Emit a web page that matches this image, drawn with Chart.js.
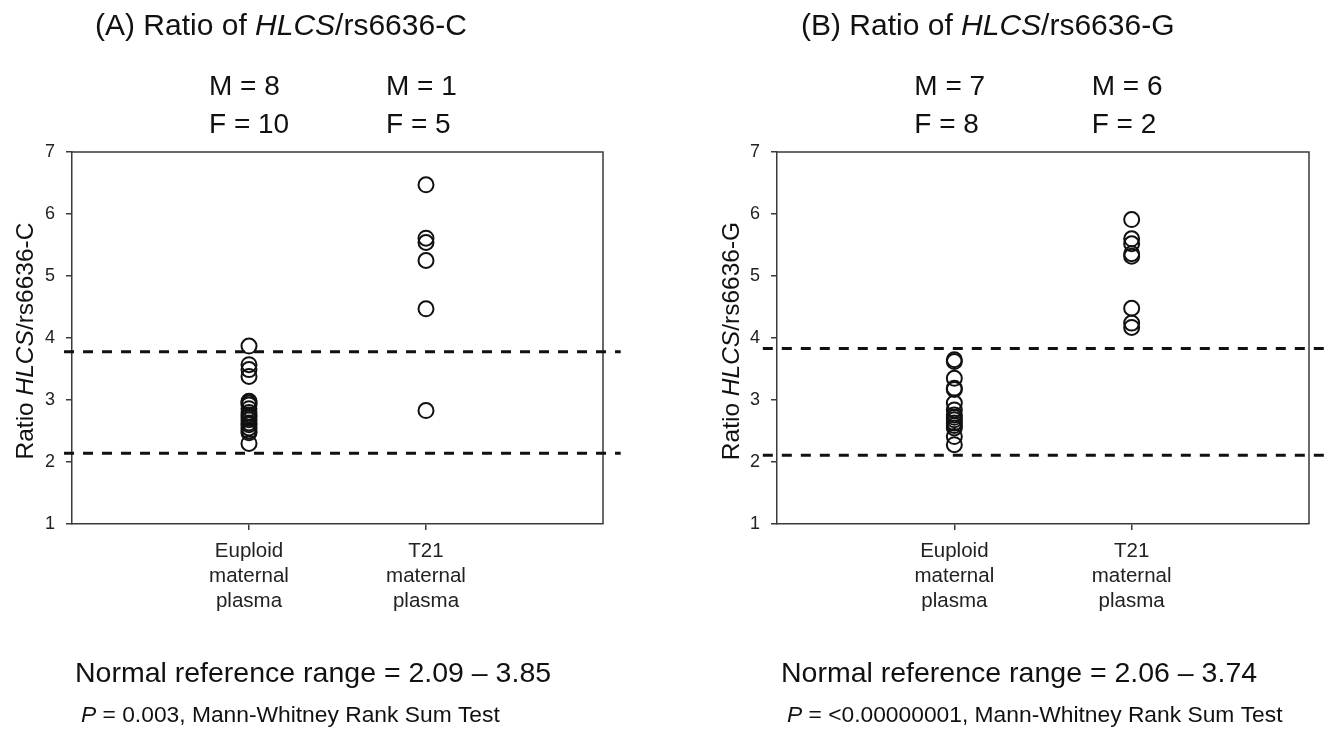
<!DOCTYPE html>
<html>
<head>
<meta charset="utf-8">
<script src="https://cdn.jsdelivr.net/npm/chart.js@4.4.1/dist/chart.umd.min.js"></script>
<style>
  html, body { margin: 0; padding: 0; background: #fff; }
  body { width: 1326px; height: 735px; position: relative; overflow: hidden; }
  canvas { position: absolute; top: 0; }
</style>
</head>
<body>
<canvas id="cA" width="663" height="735" style="left:0px"></canvas>
<canvas id="cB" width="663" height="735" style="left:663px"></canvas>
<script>
// ---------- data ----------
const categories = [['Euploid', 'maternal', 'plasma'], ['T21', 'maternal', 'plasma']];
const yTicks = [1, 2, 3, 4, 5, 6, 7];

const euploidA = [3.87, 3.57, 3.49, 3.38, 2.98, 2.95, 2.92, 2.86, 2.80, 2.76, 2.72, 2.68, 2.63, 2.60, 2.55, 2.50, 2.47, 2.30];
const t21A = [6.47, 5.61, 5.54, 5.25, 4.47, 2.83];
const refLinesA = [3.78, 2.14];
const maleA = [8, 1];
const femaleA = [10, 5];

const euploidB = [3.65, 3.62, 3.35, 3.19, 3.17, 2.95, 2.84, 2.76, 2.72, 2.68, 2.63, 2.59, 2.55, 2.41, 2.28];
const t21B = [5.91, 5.60, 5.52, 5.36, 5.32, 4.48, 4.24, 4.17];
const refLinesB = [3.83, 2.11];
const maleB = [7, 6];
const femaleB = [8, 2];

const titleA = [['(A) Ratio of ', false], ['HLCS', true], ['/rs6636-C', false]];
const titleB = [['(B) Ratio of ', false], ['HLCS', true], ['/rs6636-G', false]];
const yTitleA = [['Ratio ', false], ['HLCS', true], ['/rs6636-C', false]];
const yTitleB = [['Ratio ', false], ['HLCS', true], ['/rs6636-G', false]];
const rangeA = 'Normal reference range = 2.09 \u2013 3.85';
const rangeB = 'Normal reference range = 2.06 \u2013 3.74';
const pTextA = [['P', true], [' = 0.003, Mann-Whitney Rank Sum Test', false]];
const pTextB = [['P', true], [' = <0.00000001, Mann-Whitney Rank Sum Test', false]];

// ---------- drawing ----------
const FAM = '"Liberation Sans", Arial, Helvetica, sans-serif';
const W = 663, H = 735;
const TEXT = '#111';
const AXIS = '#3a3a3a';

function richWidth(ctx, segs, size) {
  let w = 0;
  segs.forEach(([t, it]) => { ctx.font = (it ? 'italic ' : '') + size + 'px ' + FAM; w += ctx.measureText(t).width; });
  return w;
}
function drawRich(ctx, segs, x, y, size, align) {
  let cx = x;
  if (align === 'center') cx = x - richWidth(ctx, segs, size) / 2;
  ctx.textAlign = 'left';
  segs.forEach(([t, it]) => {
    ctx.font = (it ? 'italic ' : '') + size + 'px ' + FAM;
    ctx.fillText(t, cx, y);
    cx += ctx.measureText(t).width;
  });
}

function textPlugin(p) {
  return {
    id: 'texts' + p.id,
    beforeDatasetsDraw(chart) {
      const ctx = chart.ctx, a = chart.chartArea;
      ctx.save();
      ctx.strokeStyle = AXIS;
      ctx.lineWidth = 1.5;
      ctx.beginPath();
      ctx.moveTo(a.left, a.top);
      ctx.lineTo(a.right, a.top);
      ctx.lineTo(a.right, a.bottom);
      ctx.stroke();
      ctx.restore();
    },
    afterDraw(chart) {
      const ctx = chart.ctx;
      const xs = chart.scales.x, ys = chart.scales.y;
      ctx.save();
      ctx.fillStyle = TEXT;
      ctx.textBaseline = 'alphabetic';
      drawRich(ctx, p.title, p.titleX, 35, 30, 'left');
      ctx.font = '28px ' + FAM;
      ctx.textAlign = 'left';
      [0, 1].forEach(i => {
        const px = xs.getPixelForValue(i + 1) - 40;
        ctx.fillText('M = ' + p.male[i], px, 95);
        ctx.fillText('F = ' + p.female[i], px, 133);
      });
      ctx.font = '28.5px ' + FAM;
      ctx.fillText(p.range, p.bottomX, 682);
      drawRich(ctx, p.pText, p.bottomX + 6, 722, 22.8, 'left');
      // y-axis title
      ctx.save();
      ctx.translate(p.yTitleX, (ys.top + ys.bottom) / 2 + 3);
      ctx.rotate(-Math.PI / 2);
      ctx.textBaseline = 'middle';
      drawRich(ctx, p.yTitle, 0, 0, 24.5, 'center');
      ctx.restore();
      ctx.restore();
    }
  };
}

function makeChart(canvasId, p) {
  const pointStyle = {
    showLine: false, pointStyle: 'circle', pointRadius: 7.5, pointBorderWidth: 2,
    pointBackgroundColor: 'rgba(0,0,0,0)', pointBorderColor: '#111',
    backgroundColor: 'rgba(0,0,0,0)', borderColor: '#111'
  };
  const refDs = v => ({
    data: [{ x: p.lineX0, y: v }, { x: 3.1, y: v }],
    showLine: true, borderDash: [10, 9], borderWidth: 3, borderColor: '#111',
    pointRadius: 0, clip: false, fill: false
  });
  return new Chart(document.getElementById(canvasId), {
    type: 'scatter',
    data: {
      datasets: [
        Object.assign({ data: p.euploid.map(v => ({ x: 1, y: v })) }, pointStyle),
        Object.assign({ data: p.t21.map(v => ({ x: 2, y: v })) }, pointStyle),
        refDs(p.refLines[0]),
        refDs(p.refLines[1])
      ]
    },
    options: {
      responsive: false, animation: false, devicePixelRatio: 1,
      layout: { padding: { left: 0, right: W - p.right, top: 152, bottom: 0 } },
      plugins: { legend: { display: false }, tooltip: { enabled: false }, title: { display: false } },
      scales: {
        x: {
          type: 'linear', min: 0, max: 3,
          afterBuildTicks: ax => { ax.ticks = [{ value: 1 }, { value: 2 }]; },
          afterFit: s => { s.height = H - 524; },
          ticks: {
            callback: v => categories[Math.round(v) - 1] || '',
            font: { size: 20.5, family: FAM, lineHeight: 1.22 }, color: '#222',
            padding: 9, maxRotation: 0, autoSkip: false
          },
          grid: { drawOnChartArea: false, tickLength: 6, color: AXIS, lineWidth: 1.5 },
          border: { color: AXIS, width: 1.5 }
        },
        y: {
          min: 1, max: 7,
          afterBuildTicks: ax => { ax.ticks = yTicks.map(v => ({ value: v })); },
          afterFit: s => { s.width = p.left; },
          ticks: { font: { size: 18, family: FAM }, color: '#222', padding: 11 },
          grid: { drawOnChartArea: false, tickLength: 6, color: AXIS, lineWidth: 1.5 },
          border: { color: AXIS, width: 1.5 }
        }
      }
    },
    plugins: [textPlugin(p)]
  });
}

makeChart('cA', {
  id: 'A', left: 72, right: 603, lineX0: -0.045,
  euploid: euploidA, t21: t21A, refLines: refLinesA, male: maleA, female: femaleA,
  title: titleA, yTitle: yTitleA, range: rangeA, pText: pTextA,
  titleX: 95, bottomX: 75, yTitleX: 26
});
makeChart('cB', {
  id: 'B', left: 114, right: 646, lineX0: -0.08,
  euploid: euploidB, t21: t21B, refLines: refLinesB, male: maleB, female: femaleB,
  title: titleB, yTitle: yTitleB, range: rangeB, pText: pTextB,
  titleX: 138, bottomX: 118, yTitleX: 69
});
</script>
</body>
</html>
